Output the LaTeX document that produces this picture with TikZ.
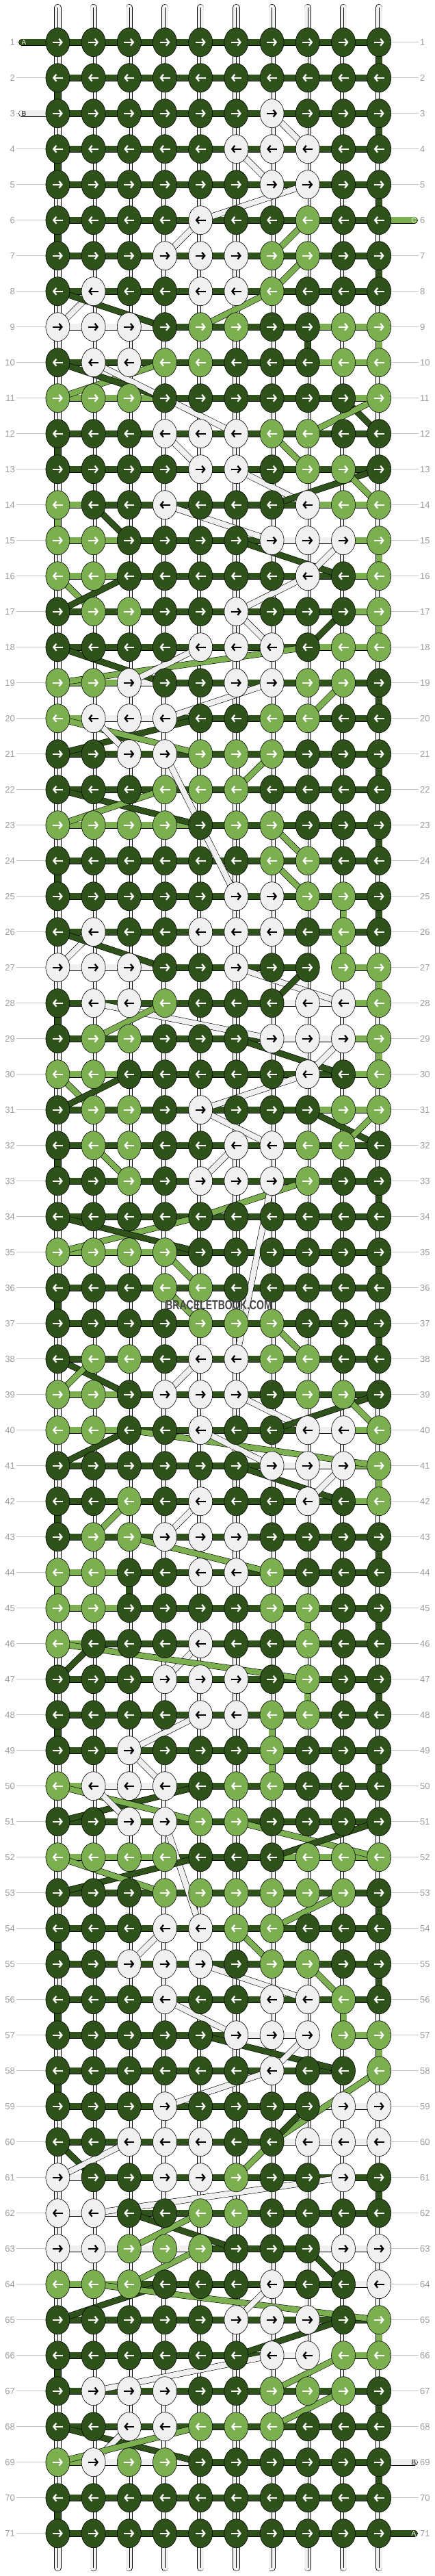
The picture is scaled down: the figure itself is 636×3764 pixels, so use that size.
\documentclass[tikz,border=0pt]{standalone}
\usepackage{fontspec}
\setmainfont{Liberation Sans}
\usetikzlibrary{arrows.meta}
\usetikzlibrary{shapes.geometric}

\definecolor{D}{HTML}{2E5219}
\definecolor{L}{HTML}{7CAF50}
\definecolor{W}{HTML}{EFF0EF}
\colorlet{arrD}{white}
\colorlet{arrL}{white}
\colorlet{arrW}{black}
\definecolor{labelgray}{HTML}{9B9B9B}
\definecolor{linegray}{HTML}{C4C4C4}
\definecolor{markgray}{HTML}{454545}

\pgfdeclarelayer{threads}
\pgfsetlayers{threads,main}

\tikzset{
  knot/.style={ellipse, draw=black, line width=0.6pt, minimum width=35pt, minimum height=42pt, inner sep=0pt},
  knotarrow/.style={line width=2.3pt, -{Straight Barb[length=4pt,width=10pt]}},
  band/.style={draw=black, line width=0.6pt, double=#1, double distance=9pt},
  diag/.style={band=#1, double distance=8pt},
  tube/.style={band=W},
  tail/.style={band=#1, double distance=8.5pt, line cap=round},
  rowlabel/.style={text=labelgray, font=\fontsize{13}{15}\selectfont, inner sep=2pt},
  gridline/.style={draw=linegray, line width=0.8pt},
  endletter/.style={font=\fontsize{10}{12}\selectfont, inner sep=0pt},
}

\begin{document}
\begin{tikzpicture}[x=1pt, y=-1pt]
  \useasboundingbox (0,0) rectangle (636,3764);

  % knots, row by row
  \foreach \rw/\cols in {
    1/{D,D,D,D,D,D,D,D,D,D}, 2/{D,D,D,D,D,D,D,D,D,D}, 3/{D,D,D,D,D,D,W,D,D,D},
    4/{D,D,D,D,D,W,W,W,D,D}, 5/{D,D,D,D,D,D,W,W,D,D}, 6/{D,D,D,D,W,D,D,L,D,D},
    7/{D,D,D,W,W,W,L,L,D,D}, 8/{D,W,D,D,W,W,L,D,D,D}, 9/{W,W,W,D,L,L,D,D,L,L},
    10/{D,W,W,L,L,D,D,D,L,L}, 11/{L,L,L,D,D,D,D,D,D,L}, 12/{D,D,D,W,W,W,L,L,D,D},
    13/{D,D,D,D,W,W,D,L,L,D}, 14/{L,D,D,W,D,D,D,W,L,L}, 15/{L,L,D,D,D,D,W,W,W,L},
    16/{L,L,D,D,D,D,D,W,D,L}, 17/{D,L,L,D,D,W,D,D,D,L}, 18/{D,D,D,D,W,W,W,D,L,L},
    19/{L,L,W,D,D,W,W,L,L,D}, 20/{L,W,W,W,D,D,L,L,D,D}, 21/{D,D,W,W,L,L,L,D,D,D},
    22/{D,D,D,L,L,L,D,D,D,D}, 23/{L,L,L,L,D,L,L,D,D,D}, 24/{D,D,D,D,D,D,L,L,D,D},
    25/{D,D,D,D,D,W,W,L,L,D}, 26/{D,W,D,D,W,W,W,D,L,D}, 27/{W,W,W,D,D,W,D,D,L,L},
    28/{D,W,W,L,D,D,D,W,W,L}, 29/{D,L,L,D,D,D,W,W,W,L}, 30/{L,L,D,D,D,D,D,W,D,L},
    31/{D,L,L,D,W,D,D,D,L,L}, 32/{D,L,L,D,D,W,W,L,L,D}, 33/{D,D,L,D,W,W,W,L,D,D},
    34/{D,D,D,D,D,D,D,D,D,D}, 35/{L,L,L,L,D,D,D,D,D,D}, 36/{D,D,D,L,L,D,D,D,D,D},
    37/{D,D,D,D,L,L,L,D,D,D}, 38/{D,L,L,D,W,W,L,L,D,D}, 39/{L,L,D,W,W,W,D,L,L,D},
    40/{L,L,D,D,W,D,D,W,W,L}, 41/{D,D,D,D,D,D,W,W,W,L}, 42/{D,D,L,D,W,D,D,W,D,L},
    43/{D,L,L,W,W,W,D,D,D,D}, 44/{L,L,D,D,W,W,L,D,D,D}, 45/{L,L,D,D,D,D,L,L,D,D},
    46/{L,D,D,D,W,D,D,L,D,D}, 47/{D,D,D,W,W,W,D,L,D,D}, 48/{D,D,D,D,W,W,L,L,D,D},
    49/{D,D,W,D,D,D,L,D,D,D}, 50/{L,W,W,W,D,L,L,D,D,D}, 51/{D,D,W,W,L,L,D,D,D,D},
    52/{L,L,L,L,D,D,D,L,L,L}, 53/{D,D,D,L,L,L,L,L,L,D}, 54/{D,D,D,W,W,L,L,D,D,D},
    55/{D,D,W,W,W,D,L,L,D,D}, 56/{D,D,D,W,D,D,W,W,L,D}, 57/{D,D,D,D,D,W,W,W,L,L},
    58/{D,D,D,D,D,D,W,D,D,L}, 59/{D,D,D,W,D,D,D,D,W,W}, 60/{D,D,W,W,W,D,D,W,W,W},
    61/{W,D,D,W,W,L,D,D,W,D}, 62/{W,W,D,D,L,L,D,D,D,D}, 63/{W,W,L,L,L,D,D,D,W,W},
    64/{L,L,L,D,D,D,W,D,D,W}, 65/{D,D,D,D,D,W,W,W,D,L}, 66/{D,D,D,D,D,D,W,W,L,L},
    67/{D,W,W,W,D,D,L,L,L,D}, 68/{D,D,W,W,L,L,L,D,D,D}, 69/{L,W,L,L,D,D,D,D,D,D},
    70/{D,D,D,D,D,D,D,D,D,D}, 71/{D,D,D,D,D,D,D,D,D,D}} {
    \pgfmathsetmacro\ky{61.7+52*(\rw-1)}
    \ifodd\rw \def\dir{1}\else \def\dir{-1}\fi
    \node[rowlabel, anchor=east] (ll-\rw) at (24,\ky) {\rw};
    \node[rowlabel, anchor=west] (rl-\rw) at (612,\ky) {\rw};
    \foreach \clr [count=\col] in \cols {
      \pgfmathsetmacro\kx{84.4+52.2*(\col-1)}
      \node[knot, fill=\clr] (k-\rw-\col) at (\kx,\ky) {};
      \draw[knotarrow, draw=arr\clr] ({\kx-7.5*\dir},\ky) -- ++({15*\dir},0);
    }
  }

  \begin{pgfonlayer}{threads}
    % row number lines
    \foreach \rw in {1,...,71} {
      \draw[gridline] (ll-\rw) -- (k-\rw-1);
      \draw[gridline] (k-\rw-10) -- (rl-\rw);
    }
    % warp ends
    \foreach \col in {1,...,10} {
      \coordinate (top-\col) at ({84.4+52.2*(\col-1)},11);
      \coordinate (bot-\col) at ({84.4+52.2*(\col-1)},3752);
      \draw[tube, line cap=round] (top-\col) -- (k-1-\col.center);
      \draw[line width=0.4pt] (top-\col) -- (k-1-\col.center);
      \draw[tube, line cap=round] (k-71-\col.center) -- (bot-\col);
      \draw[line width=0.4pt] (k-71-\col.center) -- (bot-\col);
    }
    % warps between rows
    \foreach \rw in {1,...,70} {
      \pgfmathtruncatemacro\rn{\rw+1}
      \foreach \col in {1,...,10} {
        \draw[tube] (k-\rw-\col.center) -- (k-\rn-\col.center);
        \draw[line width=0.4pt] (k-\rw-\col.center) -- (k-\rn-\col.center);
      }
    }
    % turns
    \foreach \rw/\col/\clr in {1/10/D, 2/1/D, 3/10/D, 4/1/D, 5/10/D, 6/1/D, 7/10/D,
      9/8/D, 9/10/L, 12/1/D, 14/1/L, 15/10/L, 17/10/L, 19/10/D, 21/10/D, 23/10/D,
      24/1/D, 25/9/L, 25/10/D, 26/9/L, 27/10/L, 28/1/D, 29/10/L, 32/1/D, 33/10/D,
      35/10/D, 36/1/D, 37/10/D, 41/10/L, 42/1/D, 43/10/D, 44/1/L, 44/3/D, 45/8/L,
      45/10/D, 47/8/L, 47/10/D, 48/1/D, 48/7/L, 49/7/L, 49/10/D, 53/10/D, 54/1/D,
      55/10/D, 56/1/D, 56/9/L, 57/10/L, 58/1/D, 61/10/D, 65/10/L, 66/1/D, 67/10/D,
      69/10/D, 70/1/D} {
      \pgfmathtruncatemacro\rn{\rw+1}
      \draw[band=\clr] (k-\rw-\col.center) -- (k-\rn-\col.center);
    }
    % working threads along the rows
    \foreach \rw in {1,...,71} {
      \foreach \col in {1,...,9} {
        \pgfmathtruncatemacro\cn{\col+1}
        \draw[band=D] (k-\rw-\col.center) -- (k-\rw-\cn.center);
      }
    }
    \foreach \rw/\col/\clr in {9/1/W, 9/2/W, 9/3/W, 9/8/L, 9/9/L, 10/8/L, 10/9/L,
      11/1/L, 11/2/L, 11/3/L, 11/9/L, 14/1/L, 14/8/L, 14/9/L, 15/1/L, 15/2/L,
      15/7/W, 15/8/W, 15/9/L, 16/1/L, 16/2/L, 16/9/L, 17/9/L, 18/8/L, 18/9/L,
      19/1/L, 19/2/L, 19/3/W, 20/1/L, 20/2/W, 20/3/W, 23/1/L, 23/2/L, 23/3/L,
      23/4/L, 27/1/W, 27/2/W, 27/3/W, 27/9/L, 28/7/W, 28/8/W, 28/9/L, 29/7/W,
      29/8/W, 29/9/L, 30/1/L, 30/2/L, 30/9/L, 31/8/L, 31/9/L, 35/1/L, 35/2/L,
      35/3/L, 39/1/L, 39/2/L, 40/1/L, 40/2/L, 40/8/W, 40/9/L, 41/7/W, 41/8/W,
      41/9/L, 42/9/L, 44/1/L, 44/2/L, 45/1/L, 45/2/L, 46/1/L, 50/1/L, 50/2/W,
      50/3/W, 52/1/L, 52/2/L, 52/3/L, 52/7/L, 52/8/L, 52/9/L, 57/6/W, 57/7/W,
      57/9/L, 59/8/W, 59/9/W, 60/7/W, 60/8/W, 60/9/W, 61/1/W, 62/1/W, 62/2/W,
      63/1/W, 63/2/W, 63/3/W, 63/4/W, 63/8/W, 63/9/W, 64/1/L, 64/2/L, 64/9/W,
      66/7/W, 66/9/L, 69/1/L, 69/2/W, 69/3/W, 69/4/W} {
      \pgfmathtruncatemacro\cn{\col+1}
      \draw[band=\clr] (k-\rw-\col.center) -- (k-\rw-\cn.center);
    }
    \foreach \rw/\col in {27/8, 57/8, 58/9, 66/8} {
      \pgfmathtruncatemacro\cn{\col+1}
      \draw[white, line width=11pt] (k-\rw-\col.center) -- (k-\rw-\cn.center);
    }
    % threads carried to another row
    \foreach \ra/\ca/\rb/\cb/\clr in {3/7/4/8/W, 4/6/5/7/W, 5/8/6/5/W, 6/5/7/4/W,
      6/8/7/7/L, 7/8/8/7/L, 8/7/9/5/L, 8/2/9/1/W, 8/1/9/4/D, 10/4/11/1/L,
      10/1/11/4/D, 10/2/11/4/W, 11/4/12/6/W, 11/9/12/10/D, 11/10/12/8/L,
      12/4/13/5/W, 12/7/13/8/L, 13/6/14/8/W, 13/10/14/7/D, 13/9/14/10/L,
      14/2/15/3/D, 14/4/15/7/W, 15/6/16/9/D, 15/9/16/8/W, 16/1/17/2/L,
      16/3/17/1/D, 16/8/17/6/W, 17/6/18/7/W, 17/9/18/8/D, 18/1/19/4/D,
      18/8/19/1/L, 18/5/19/3/W, 19/9/20/8/L, 19/7/20/4/W, 20/5/21/1/D,
      20/1/21/5/L, 20/2/21/3/W, 21/7/22/6/L, 21/4/25/6/W, 22/1/23/5/D,
      22/4/23/1/L, 23/7/24/8/L, 24/7/25/8/L, 26/2/27/1/W, 26/1/27/4/D,
      27/6/28/9/W, 27/8/28/7/D, 28/2/29/7/W, 28/4/29/2/L, 29/6/30/9/D,
      29/9/30/8/W, 30/1/31/2/L, 30/3/31/1/D, 30/8/31/5/W, 31/5/32/7/W,
      31/8/32/10/D, 31/10/32/9/L, 32/2/33/3/L, 32/6/33/5/W, 33/8/34/5/L,
      34/5/35/1/L, 33/7/38/6/W, 34/1/35/5/D, 35/4/36/5/L, 36/4/37/5/L,
      37/7/38/8/L, 38/5/39/4/W, 38/1/39/3/D, 38/2/39/1/L, 39/6/40/8/W,
      39/10/40/7/D, 39/9/40/10/L, 40/3/41/1/D, 40/3/41/10/L, 40/5/41/7/W,
      41/6/42/9/D, 41/9/42/8/W, 42/3/43/2/L, 42/5/43/4/W, 43/3/44/7/L,
      46/2/47/1/D, 46/5/47/4/W, 46/1/47/8/L, 48/5/49/3/W, 49/3/50/4/W,
      50/5/51/1/D, 50/1/51/5/L, 50/2/51/3/W, 51/4/54/5/W, 51/6/52/10/L,
      51/10/52/7/D, 52/5/53/1/D, 52/1/53/4/L, 53/9/54/7/L, 54/4/55/3/W,
      54/6/55/7/L, 55/8/56/9/L, 55/5/56/8/W, 56/4/57/6/W, 57/5/58/9/D,
      57/8/58/7/W, 58/7/59/4/W, 58/10/60/7/L, 59/8/60/7/D, 60/1/61/2/D,
      60/3/61/1/W, 60/7/61/6/L, 61/9/62/2/W, 62/3/63/6/D, 62/5/63/3/L,
      63/5/64/3/L, 63/8/64/9/D, 64/4/65/1/D, 64/2/65/10/L, 64/7/65/6/W,
      65/9/66/6/D, 66/7/67/2/W, 66/9/67/7/L, 67/9/68/7/L, 68/1/69/5/D,
      68/3/69/2/W, 68/5/69/1/L} {
      \draw[diag=\clr] (k-\ra-\ca.center) -- (k-\rb-\cb.center);
    }
    % loose ends
    \coordinate (end-A1) at (32,61.7);
    \coordinate (end-B3) at (32,165.7);
    \coordinate (end-C6) at (606,321.7);
    \coordinate (end-B69) at (606,3597.7);
    \coordinate (end-A71) at (606,3701.7);
    \draw[tail=D] (end-A1) -- (k-1-1.center);
    \draw[tail=W] (end-B3) -- (k-3-1.center);
    \draw[tail=L] (k-6-10.center) -- (end-C6);
    \draw[tail=W] (k-69-10.center) -- (end-B69);
    \draw[tail=D] (k-71-10.center) -- (end-A71);
  \end{pgfonlayer}

  \node[endletter, text=white] (let-A1) at (35,61.7) {A};
  \node[endletter, text=black] (let-B3) at (35,165.7) {B};
  \node[endletter, text=white] (let-C6) at (605,321.7) {C};
  \node[endletter, text=black] (let-B69) at (605,3597.7) {B};
  \node[endletter, text=white] (let-A71) at (605,3701.7) {A};

  \node[text=markgray, font=\bfseries\fontsize{19}{21}\selectfont, inner sep=0pt] (mark) at (320,1907) {\scalebox{0.74}[1]{BRACELETBOOK.COM}};
\end{tikzpicture}
\end{document}
